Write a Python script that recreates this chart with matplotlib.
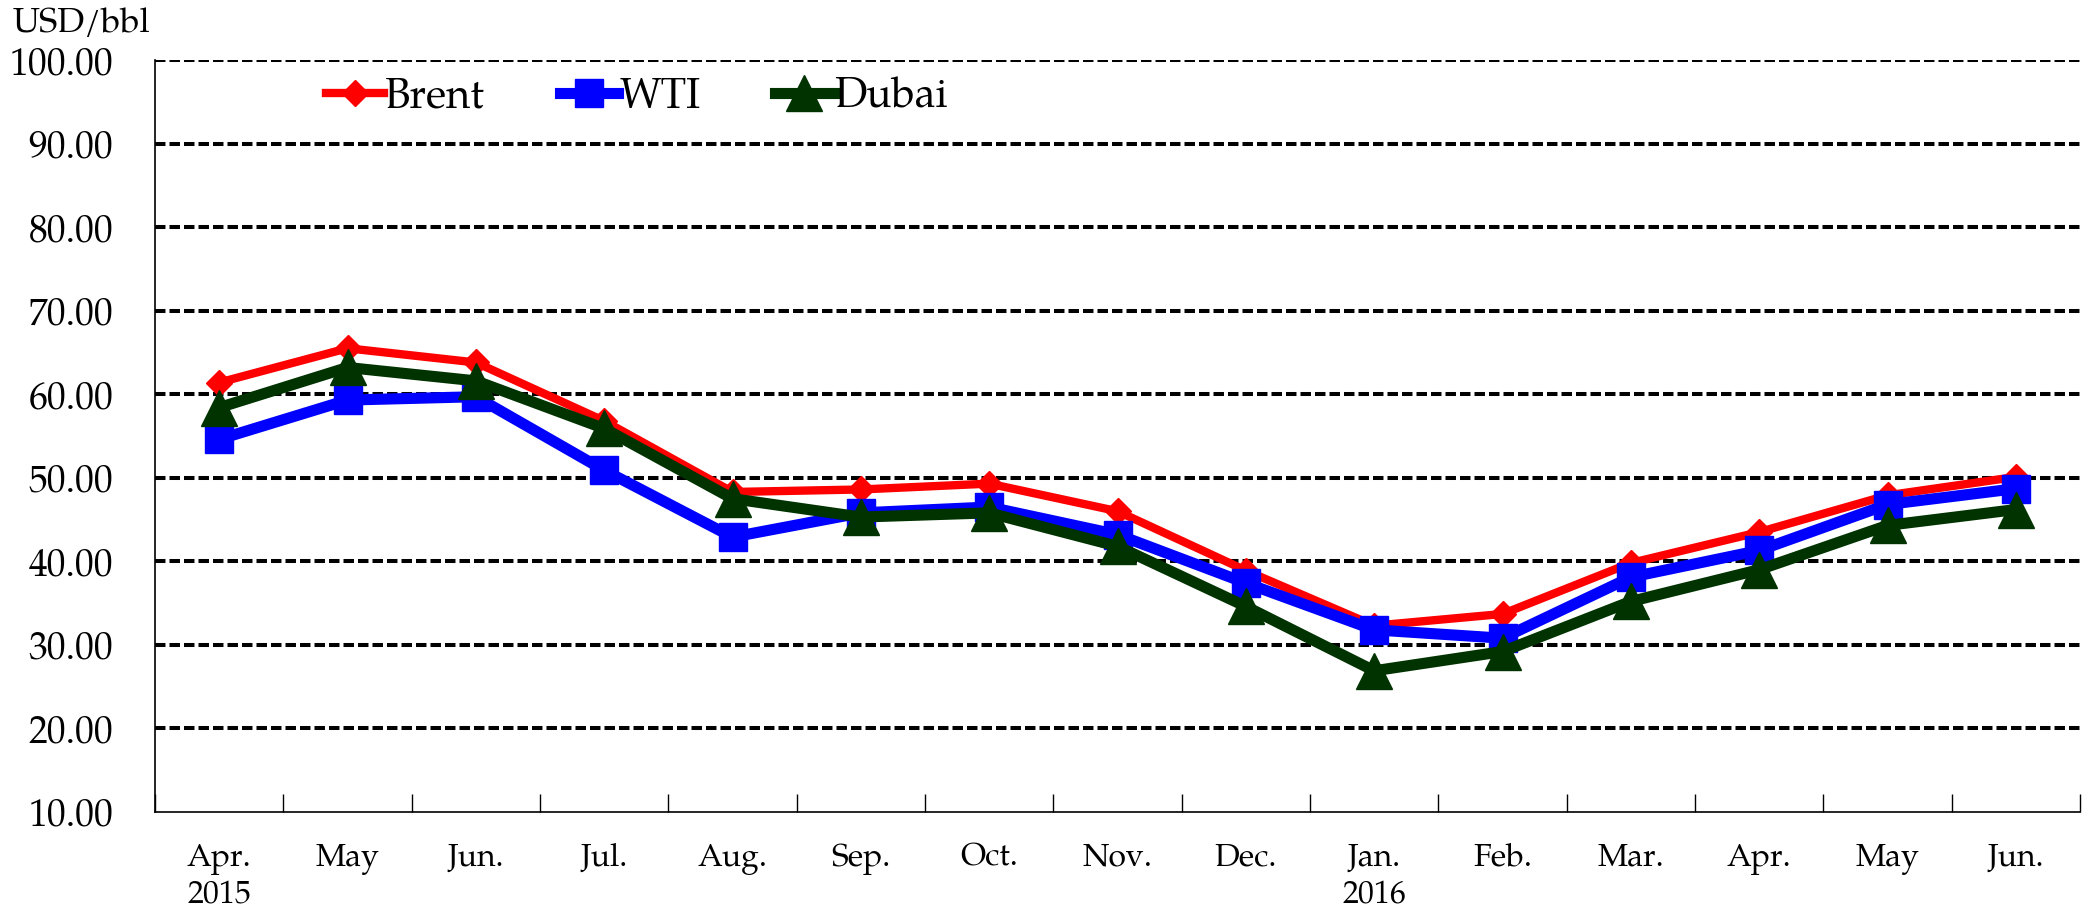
import matplotlib
matplotlib.use("Agg")
import matplotlib.pyplot as plt
import numpy as np

# Monthly crude prices, USD/bbl
months = ["Apr.\n2015", "May", "Jun.", "Jul.", "Aug.", "Sep.", "Oct.", "Nov.",
          "Dec.", "Jan.\n2016", "Feb.", "Mar.", "Apr.", "May", "Jun."]
brent = [61.4, 65.5, 63.8, 56.8, 48.3, 48.6, 49.3, 46.0, 38.9, 32.3, 33.7, 39.8, 43.5, 47.9, 50.1]
wti = [54.6, 59.3, 59.7, 50.9, 42.9, 45.8, 46.5, 43.2, 37.4, 31.8, 30.8, 38.1, 41.3, 46.8, 48.7]
dubai = [58.4, 63.2, 61.6, 55.9, 47.5, 45.3, 45.8, 41.8, 34.6, 26.9, 29.2, 35.2, 39.0, 44.3, 46.2]

plt.rcParams['font.family'] = ['TeX Gyre Pagella', 'P052', 'Liberation Serif', 'DejaVu Serif']

W, H = 2087, 910
fig = plt.figure(figsize=(W / 100, H / 100), dpi=100)
ax = fig.add_axes([155 / W, 1 - 812 / H, 1925 / W, 752 / H])

x = np.arange(len(months))

# Series, later ones drawn on top
ax.plot(x, brent, color="#FF0000", lw=6, marker="D", ms=13.5,
        mec="#FF0000", label="Brent", zorder=3)
ax.plot(x, wti, color="#0000FF", lw=8, marker="s", ms=19.5,
        mec="#0000FF", label="WTI", zorder=4)
ax.plot(x, dubai, color="#003300", lw=8, marker="^", ms=26,
        mec="#003300", label="Dubai", zorder=5)

# Axes limits and dashed grid
ax.set_xlim(-0.5, len(months) - 0.5)
ax.set_ylim(10, 100)
ax.set_yticks(np.arange(10, 101, 10))
ax.set_yticklabels([f"{v:.2f}" for v in np.arange(10, 101, 10)], fontsize=27)
ax.tick_params(axis="y", length=0, pad=30)
for yv in np.arange(20, 101, 10):
    ax.axhline(yv, color="black", lw=2.9, linestyle=(0, (2.6, 1.0)), zorder=1)

# Category ticks between months, labels in the middle
ax.set_xticks(np.arange(-0.5, len(months), 1.0))
ax.set_xticklabels([])
ax.tick_params(axis="x", which="major", direction="in", length=13, width=1)
ax.set_xticks(x, minor=True)
ax.set_xticklabels(months, minor=True, fontsize=23, linespacing=1.2)
ax.tick_params(axis="x", which="minor", length=0, pad=22)

for side in ["top", "right"]:
    ax.spines[side].set_visible(False)
for side in ["left", "bottom"]:
    ax.spines[side].set_linewidth(1.2)
    ax.spines[side].set_color("black")

fig.text(13 / W, 1 - 32 / H, "USD/bbl", fontsize=25, va="baseline", ha="left")

ax.legend(loc="center left", bbox_to_anchor=(326 / W, 1 - 98 / H),
          bbox_transform=fig.transFigure, ncol=3, frameon=False,
          fontsize=30, handlelength=1.4, handletextpad=0.02,
          columnspacing=1.8, borderpad=0, borderaxespad=0)

fig.savefig("out.png", dpi=100)
